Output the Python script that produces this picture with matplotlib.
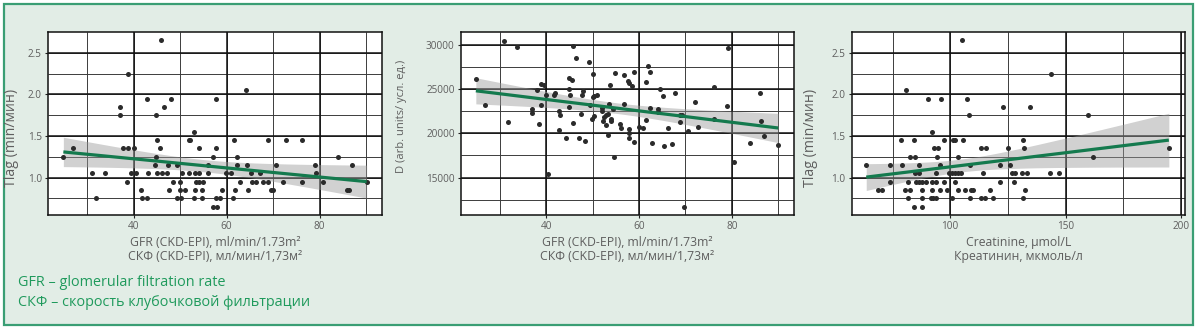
import numpy as np
import matplotlib
matplotlib.use("Agg")
import matplotlib.pyplot as plt
from matplotlib.patches import Rectangle
from matplotlib.ticker import MultipleLocator

plt.rcParams['font.family'] = ['Open Sans', 'DejaVu Sans']

# ---- Panel 1: Tlag vs GFR ----
gfr_tlag = [
    45.9, 38.9, 64.1, 42.9, 48.0, 57.8, 37.0, 46.5, 37.0, 44.9, 53.0,
    45.1, 51.9, 52.2, 61.5, 69.0, 72.8, 76.2,
    26.9, 37.8, 38.9, 40.0, 45.6, 54.0, 57.8,
    24.9, 44.9, 57.0, 62.3, 84.0,
    44.5, 47.5, 49.4, 56.0, 62.3, 64.3, 70.7, 79.0, 87.0,
    31.0, 33.8, 39.5, 40.6, 43.1, 45.0, 46.0, 47.1, 50.4, 51.9, 53.3, 54.0,
    55.9, 59.9, 60.9, 65.3, 67.1, 79.2,
    38.6, 48.5, 49.9, 53.5, 54.0, 55.0, 62.8, 65.4, 66.3, 67.8, 69.0, 72.1,
    76.3, 80.8, 90.1,
    41.6, 47.7, 49.9, 51.0, 53.1, 54.6, 59.0, 61.9, 64.7, 69.5, 70.0, 85.8, 86.3,
    31.9, 41.7, 42.9, 49.4, 50.2, 53.0, 54.6, 57.8, 58.5, 61.4,
    57.0, 58.0,
]
tlag_gfr = (
    [2.65, 2.25, 2.05, 1.95, 1.95, 1.95, 1.85, 1.85, 1.75, 1.75, 1.55]
    + [1.45] * 7 + [1.35] * 7 + [1.25] * 5 + [1.15] * 9 + [1.05] * 18
    + [0.95] * 15 + [0.85] * 13 + [0.75] * 10 + [0.65] * 2
)

# ---- Panel 2: D vs GFR ----
gfr_d = [
    24.8, 26.7, 30.9, 33.6, 31.8, 36.9, 36.9, 38.0, 38.8, 39.5, 38.8, 38.4,
    39.9, 40.3, 41.6, 41.8, 42.8, 43.0, 42.7, 44.3, 44.8, 45.6, 44.8, 45.0,
    44.9, 45.8, 46.4, 45.8, 47.0, 47.5, 47.7, 48.0, 48.3, 49.2, 50.0, 49.4,
    50.0, 50.3, 50.9, 49.9, 50.3, 52.0, 52.0, 52.3, 52.9, 53.2, 52.5, 52.9,
    53.2, 53.6, 53.8, 54.4, 54.0, 54.0, 54.6, 54.9, 55.9, 56.0, 56.8, 56.8,
    57.7, 57.9, 58.4, 57.9, 57.9, 57.9, 58.9, 58.9, 59.9, 60.9, 61.4, 61.9,
    62.3, 61.4, 62.3, 62.7, 64.0, 64.0, 64.6, 65.2, 65.3, 66.2, 67.0, 67.8,
    68.9, 69.2, 68.9, 69.6, 70.5, 72.1, 72.8, 76.2, 76.2, 79.0, 79.1, 80.5,
    83.9, 86.0, 86.2, 86.9, 90.0,
]
d_units = [
    26130, 23268, 30459, 29819, 21273, 22780, 22326, 24887, 25565, 25527, 23230, 21085,
    24398, 15400, 24360, 24548, 22553, 22100, 20407, 19466, 26318, 26054, 25000, 24398,
    22967, 29857, 28501, 21235, 19466, 22251, 24398, 24812, 19127, 28049, 26694, 23230,
    24134, 24247, 24322, 21612, 21951, 22929, 22553, 21424, 20934, 19804, 21913, 22100,
    22251, 23343, 25452, 22741, 21687, 21386, 17357, 26883, 21085, 20595, 23343, 26657,
    25941, 25753, 25414, 20482, 20068, 19503, 26958, 18976, 20783, 20632, 25791, 27598,
    26958, 21499, 22929, 18938, 22816, 22478, 25000, 24285, 18600, 20632, 18751, 24586,
    22101, 22063, 21273, 11634, 20218, 23532, 20745, 25301, 21687, 23080, 29706, 16717,
    18901, 24624, 21461, 19691, 18637,
]

# ---- Panel 3: Tlag vs creatinine ----
creat = [
    105.2, 143.8, 80.9, 90.2, 96.0, 107.4, 122.8, 134.5, 108.1, 159.8, 92.2,
    78.5, 84.2, 97.4, 101.3, 102.3, 105.5, 131.4,
    93.1, 94.9, 113.2, 115.6, 125.1, 131.9, 194.8,
    82.7, 84.8, 94.4, 103.3, 162.0,
    63.6, 74.0, 79.2, 86.4, 95.5, 108.7, 121.8, 125.9,
    84.9, 86.3, 93.8, 99.6, 101.0, 102.3, 103.5, 104.6, 114.2, 126.6, 127.9,
    131.2, 133.2, 143.2, 147.3,
    73.7, 81.5, 85.0, 86.4, 87.9, 89.3, 92.2, 93.9, 97.1, 102.0, 121.8, 127.7,
    68.8, 70.5, 80.6, 82.4, 87.9, 92.3, 95.7, 98.7, 103.3, 106.4, 109.2, 110.1,
    117.3, 132.4,
    81.8, 87.9, 91.5, 92.6, 93.9, 100.9, 108.7, 113.4, 114.9, 118.6, 131.5,
    84.4, 87.9,
]
tlag_creat = (
    [2.65, 2.25, 2.05, 1.95, 1.95, 1.95, 1.85, 1.85, 1.75, 1.75, 1.55]
    + [1.45] * 7 + [1.35] * 7 + [1.25] * 5 + [1.15] * 8 + [1.05] * 15
    + [0.95] * 12 + [0.85] * 14 + [0.75] * 11 + [0.65] * 2
)

# Axis labels and footnote text
ylab_tlag = "Tlag (min/мин)"
ylab_d = "D (arb. units/ усл. ед.)"
xlab_gfr = "GFR (CKD-EPI), ml/min/1.73m²\nСКФ (CKD-EPI), мл/мин/1,73м²"
xlab_creat = "Creatinine, µmol/L\nКреатинин, мкмоль/л"
note_lines = ["GFR – glomerular filtration rate",
              "СКФ – скорость клубочковой фильтрации"]

BG = "#e2ede6"
FRAME = "#3a9e74"
GREEN_TXT = "#1f9a5c"
LINE = "#147a4e"
GREY_TXT = "#5e5e5e"
T95 = 1.985


def lm_band(x, y, xs):
    """Least-squares line with a 95% confidence band for the mean."""
    x = np.asarray(x, float)
    y = np.asarray(y, float)
    n = len(x)
    b, a = np.polyfit(x, y, 1)
    resid = y - (a + b * x)
    s = np.sqrt(np.sum(resid ** 2) / (n - 2))
    xm = x.mean()
    sxx = np.sum((x - xm) ** 2)
    fit = a + b * xs
    se = s * np.sqrt(1.0 / n + (xs - xm) ** 2 / sxx)
    return fit, fit - T95 * se, fit + T95 * se


def grid_positions(step, lim):
    vals = np.arange(np.ceil(lim[0] / step) * step, lim[1], step)
    return [v for v in vals if lim[0] < v < lim[1]]


fig = plt.figure(figsize=(12, 3.34), dpi=100)
fig.patch.set_facecolor("white")
fig.patches.append(Rectangle((4 / 1200, 9 / 334), 1189 / 1200, 321 / 334,
                             transform=fig.transFigure, facecolor=BG,
                             edgecolor=FRAME, linewidth=1.6, zorder=-10))

panels = [
    dict(rect=(48, 334), x=gfr_tlag, y=tlag_gfr, xlim=(21.6, 93.4), ylim=(0.55, 2.75),
         xmaj=20, xmin=10, ymaj=0.5, ymin=0.25, ylabel=ylab_tlag, xlabel=xlab_gfr,
         ylpos=(-0.088, 0.42), ylfs=10.2),
    dict(rect=(461, 333), x=gfr_d, y=d_units, xlim=(21.6, 93.4), ylim=(10750, 31500),
         xmaj=20, xmin=10, ymaj=5000, ymin=2500, ylabel=ylab_d, xlabel=xlab_gfr,
         ylpos=(-0.162, 0.54), ylfs=8.0),
    dict(rect=(851.7, 333.3), x=creat, y=tlag_creat, xlim=(57.3, 201.8), ylim=(0.55, 2.75),
         xmaj=50, xmin=25, ymaj=0.5, ymin=0.25, ylabel=ylab_tlag, xlabel=xlab_creat,
         ylpos=(-0.10, 0.42), ylfs=10.2),
]

for p in panels:
    left, width = p["rect"]
    ax = fig.add_axes([left / 1200, 119 / 334, width / 1200, 183 / 334])
    ax.set_facecolor("white")
    x0, x1 = p["xlim"]
    y0, y1 = p["ylim"]

    # ruled background: thin lines every minor step, heavier on major steps
    ax.vlines(grid_positions(p["xmin"], p["xlim"]), y0, y1, colors="#3c3c3c",
              linewidths=0.7, zorder=1)
    ax.hlines(grid_positions(p["ymin"], p["ylim"]), x0, x1, colors="#3c3c3c",
              linewidths=0.7, zorder=1)
    ax.vlines(grid_positions(p["xmaj"], p["xlim"]), y0, y1, colors="#111111",
              linewidths=1.1, zorder=1.1)
    ax.hlines(grid_positions(p["ymaj"], p["ylim"]), x0, x1, colors="#111111",
              linewidths=1.1, zorder=1.1)

    ax.set_xlim(x0, x1)
    ax.set_ylim(y0, y1)
    ax.xaxis.set_major_locator(MultipleLocator(p["xmaj"]))
    ax.yaxis.set_major_locator(MultipleLocator(p["ymaj"]))
    ax.tick_params(which="major", length=2.5, width=0.8, color="#222222",
                   labelsize=7.2, labelcolor=GREY_TXT, pad=2)

    for sp in ax.spines.values():
        sp.set_color("#111111")
        sp.set_linewidth(1.1)

    xs = np.linspace(min(p["x"]), max(p["x"]), 100)
    fit, lo, hi = lm_band(p["x"], p["y"], xs)
    ax.fill_between(xs, lo, hi, color="#999999", alpha=0.45, linewidth=0, zorder=2)
    ax.scatter(p["x"], p["y"], s=13, color="#2b2b2b", linewidths=0, zorder=3)
    ax.plot(xs, fit, color=LINE, linewidth=2.3, zorder=4, solid_capstyle="butt")

    ax.set_ylabel(p["ylabel"], fontsize=p["ylfs"], color=GREY_TXT)
    ax.yaxis.set_label_coords(*p["ylpos"])
    ax.set_xlabel(p["xlabel"], fontsize=8.8, color=GREY_TXT, linespacing=1.15,
                  labelpad=2.5)

fig.text(18 / 1200, 1 - 282 / 334, note_lines[0], color=GREEN_TXT, fontsize=10.4,
         va="center", ha="left")
fig.text(18 / 1200, 1 - 302 / 334, note_lines[1], color=GREEN_TXT, fontsize=10.4,
         va="center", ha="left")

fig.savefig("out.png", dpi=100, facecolor=fig.get_facecolor())
